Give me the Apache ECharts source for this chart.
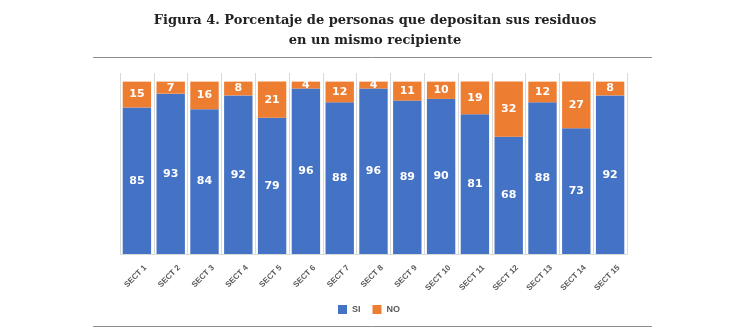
<!DOCTYPE html>
<html>
<head>
<meta charset="utf-8">
<script src="https://cdn.jsdelivr.net/npm/echarts@6/dist/echarts.min.js"></script>
<style>
  html, body { margin: 0; padding: 0; background: #ffffff; }
  #chart { width: 750px; height: 336px; }
</style>
</head>
<body>
<div id="chart"></div>
<script>
// Sectors surveyed
const sectors = ['SECT 1', 'SECT 2', 'SECT 3', 'SECT 4', 'SECT 5', 'SECT 6', 'SECT 7', 'SECT 8',
                 'SECT 9', 'SECT 10', 'SECT 11', 'SECT 12', 'SECT 13', 'SECT 14', 'SECT 15'];
// Percentage answering "SI" / "NO"
const siValues = [85, 93, 84, 92, 79, 96, 88, 96, 89, 90, 81, 68, 88, 73, 92];
const noValues = [15, 7, 16, 8, 21, 4, 12, 4, 11, 10, 19, 32, 12, 27, 8];

const titleLines = ['Figura 4. Porcentaje de personas que depositan sus residuos', 'en un mismo recipiente'];

const chart = echarts.init(document.getElementById('chart'));

const segLabel = {
  show: true,
  position: 'inside',
  color: '#ffffff',
  fontFamily: 'DejaVu Sans, sans-serif',
  fontWeight: 'bold',
  fontSize: 11
};

chart.setOption({
  animation: false,
  backgroundColor: '#ffffff',
  title: {
    text: titleLines.join('\n'),
    left: 'center',
    top: 6,
    textStyle: {
      fontFamily: 'DejaVu Serif, serif',
      fontWeight: 'bold',
      fontSize: 13,
      lineHeight: 20,
      color: '#222222'
    }
  },
  graphic: [
    { type: 'line', shape: { x1: 93, y1: 57.5, x2: 652, y2: 57.5 }, style: { stroke: '#8c8c8c', lineWidth: 1 } },
    { type: 'line', shape: { x1: 93, y1: 326.5, x2: 652, y2: 326.5 }, style: { stroke: '#8c8c8c', lineWidth: 1 } }
  ],
  legend: {
    data: ['SI', 'NO'],
    top: 305,
    left: 338,
    padding: 0,
    itemWidth: 9,
    itemHeight: 9,
    itemGap: 12,
    icon: 'rect',
    textStyle: { color: '#595959', fontSize: 9, fontWeight: 'bold', fontFamily: 'Liberation Sans, Arial, sans-serif' }
  },
  // the value axis runs a little past 100 so the category dividers rise above the bars
  grid: { left: 120, right: 123, top: 73, bottom: 82 },
  xAxis: {
    type: 'category',
    data: sectors,
    axisTick: { show: false },
    axisLine: { show: true, lineStyle: { color: '#d9d9d9' } },
    splitLine: { show: true, lineStyle: { color: '#d9d9d9', width: 1 } },
    axisLabel: {
      rotate: 45,
      color: '#595959',
      fontSize: 8,
      fontWeight: 'bold',
      fontFamily: 'Liberation Sans, Arial, sans-serif',
      margin: 4,
      verticalAlign: 'top',
      lineHeight: 24,
      interval: 0
    }
  },
  yAxis: {
    type: 'value',
    min: 0,
    max: 105,
    show: false,
    splitLine: { show: false }
  },
  series: [
    {
      name: 'SI',
      type: 'bar',
      stack: 'total',
      data: siValues,
      barWidth: '84%',
      itemStyle: { color: '#4472C4' },
      label: segLabel
    },
    {
      name: 'NO',
      type: 'bar',
      stack: 'total',
      data: noValues,
      barWidth: '84%',
      itemStyle: { color: '#ED7D31' },
      label: segLabel
    }
  ]
});
</script>
</body>
</html>
